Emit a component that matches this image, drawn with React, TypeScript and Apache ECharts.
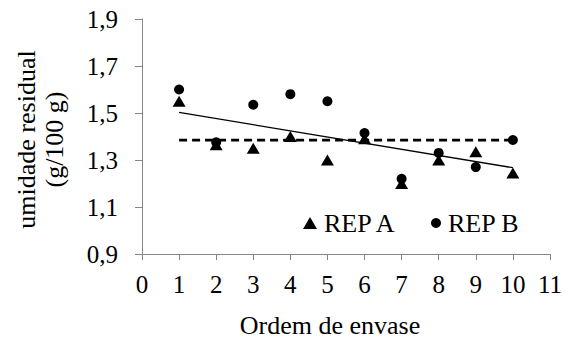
import React, { useEffect, useRef } from "react";
import * as echarts from "echarts";

const ordem = [1, 2, 3, 4, 5, 6, 7, 8, 9, 10];
const repA = [1.55, 1.365, 1.35, 1.4, 1.3, 1.39, 1.2, 1.3, 1.335, 1.245];
const repB = [1.6, 1.375, 1.535, 1.58, 1.55, 1.415, 1.22, 1.33, 1.27, 1.385];
const yTicks = [0.9, 1.1, 1.3, 1.5, 1.7, 1.9];
const xTitle = "Ordem de envase";
const yTitle = "umidade residual\n(g/100 g)";

function regression() {
  const xs: number[] = [];
  const ys: number[] = [];
  ordem.forEach((x, i) => {
    xs.push(x, x);
    ys.push(repA[i], repB[i]);
  });
  const n = xs.length;
  const mx = xs.reduce((a, b) => a + b, 0) / n;
  const my = ys.reduce((a, b) => a + b, 0) / n;
  let sxy = 0;
  let sxx = 0;
  for (let i = 0; i < n; i++) {
    sxy += (xs[i] - mx) * (ys[i] - my);
    sxx += (xs[i] - mx) * (xs[i] - mx);
  }
  const b = sxy / sxx;
  const a = my - b * mx;
  return { a, b, mean: my };
}

export default function App() {
  const ref = useRef<HTMLDivElement>(null);
  useEffect(() => {
    document.body.style.margin = "0";
    if (!ref.current) return;
    const chart = echarts.init(ref.current, undefined, { renderer: "svg" });
    const { a, b, mean } = regression();
    const x0 = ordem[0];
    const x1 = ordem[ordem.length - 1];
    const font = "Liberation Serif";
    const axisGrey = "#868686";
    const legendText = {
      fontSize: 26,
      lineHeight: 26,
      color: "#000",
      fontFamily: font,
      padding: [0, 0, 0, 2],
    };
    chart.setOption({
      animation: false,
      textStyle: { fontFamily: font, color: "#000" },
      grid: { left: 142, right: 13, top: 19, bottom: 86, containLabel: false },
      xAxis: {
        type: "value",
        min: 0,
        max: 11,
        interval: 1,
        splitLine: { show: false },
        axisLine: { show: true, lineStyle: { color: axisGrey, width: 1 } },
        axisTick: { show: true, length: 6, lineStyle: { color: axisGrey } },
        axisLabel: { fontSize: 25, color: "#000", fontFamily: font, margin: 18 },
      },
      yAxis: {
        type: "value",
        min: 0.9,
        max: 1.9,
        splitLine: { show: false },
        axisLine: { show: true, lineStyle: { color: axisGrey, width: 1 } },
        axisTick: {
          show: true,
          length: 7,
          customValues: yTicks,
          lineStyle: { color: axisGrey },
        },
        axisLabel: {
          fontSize: 25,
          color: "#000",
          fontFamily: font,
          margin: 24,
          customValues: yTicks,
          formatter: (v: number) => v.toFixed(1).replace(".", ","),
        },
        name: yTitle,
        nameLocation: "middle",
        nameRotate: 90,
        nameGap: 74,
        nameTextStyle: {
          fontSize: 26,
          lineHeight: 28,
          color: "#000",
          fontFamily: font,
          padding: [0, 6, 0, 0],
        },
      },
      legend: [
        {
          data: [{ name: "REP A", icon: "triangle" }],
          left: 303,
          top: 210,
          padding: 0,
          itemWidth: 14,
          itemHeight: 12,
          itemStyle: { color: "#000", opacity: 1 },
          textStyle: legendText,
        },
        {
          data: [{ name: "REP B", icon: "circle" }],
          left: 431,
          top: 210,
          padding: 0,
          itemWidth: 10,
          itemHeight: 10,
          itemStyle: { color: "#000", opacity: 1 },
          textStyle: legendText,
        },
      ],
      graphic: [
        {
          type: "text",
          x: 330,
          y: 325,
          style: {
            text: xTitle,
            fontSize: 26,
            fontFamily: font,
            fill: "#000",
            textAlign: "center",
            textVerticalAlign: "middle",
          },
        },
      ],
      series: [
        {
          name: "tendência",
          type: "line",
          data: [
            [x0, a + b * x0],
            [x1, a + b * x1],
          ],
          showSymbol: false,
          silent: true,
          lineStyle: { color: "#000", width: 1.3 },
          z: 1,
        },
        {
          name: "média",
          type: "line",
          data: [
            [x0, mean],
            [x1, mean],
          ],
          showSymbol: false,
          silent: true,
          lineStyle: { color: "#000", width: 2.6, type: [8, 5] },
          z: 1,
        },
        {
          name: "REP A",
          type: "scatter",
          symbol: "triangle",
          symbolSize: [13, 11],
          itemStyle: { color: "#000", opacity: 1 },
          data: ordem.map((x, i) => [x, repA[i]]),
          z: 3,
        },
        {
          name: "REP B",
          type: "scatter",
          symbol: "circle",
          symbolSize: 10,
          itemStyle: { color: "#000", opacity: 1 },
          data: ordem.map((x, i) => [x, repB[i]]),
          z: 3,
        },
      ],
    });
    return () => chart.dispose();
  }, []);
  return <div ref={ref} style={{ width: 565, height: 340 }} />;
}
